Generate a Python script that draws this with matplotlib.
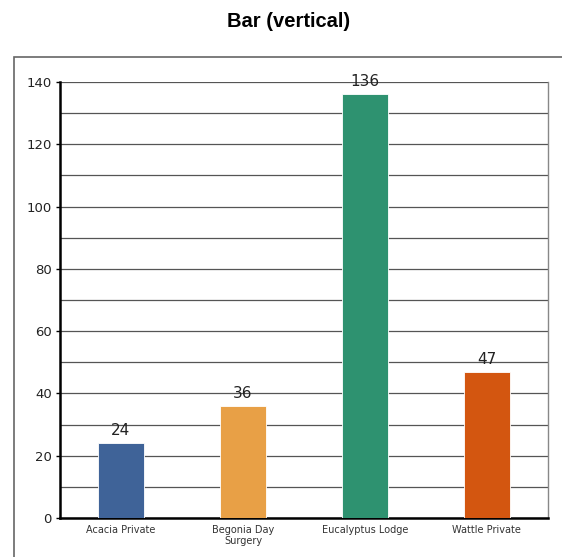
import matplotlib.pyplot as plt
from matplotlib.patches import Rectangle

categories = ['Acacia Private', 'Begonia Day\nSurgery', 'Eucalyptus Lodge', 'Wattle Private']
values = [24, 36, 136, 47]
colors = ['#3F6398', '#E8A046', '#2E9270', '#D35610']

fig = plt.figure(figsize=(5.62, 5.57), dpi=100)
fig.patch.set_facecolor('white')

# outer frame around the chart area
fig.patches.append(Rectangle((0.025, -0.1), 1.1, 0.9977, transform=fig.transFigure,
                             fill=False, edgecolor='#666666', linewidth=1.2))

ax = fig.add_axes([0.1068, 0.070, 0.868, 0.7828])
ax.set_ylim(0, 140)
ax.set_xlim(-0.5, len(categories) - 0.5)

ax.set_yticks(range(0, 141, 20))
ax.set_yticks(range(0, 141, 10), minor=True)
ax.grid(axis='y', which='both', color='#555555', linewidth=0.9)
ax.set_axisbelow(True)

bars = ax.bar(range(len(categories)), values, width=0.38, color=colors,
              edgecolor='white', linewidth=0.6, zorder=3)
for b, v in zip(bars, values):
    ax.text(b.get_x() + b.get_width() / 2, v + 1.6, str(v), ha='center', va='bottom',
            fontsize=11, color='#222222', zorder=4)

ax.set_xticks(range(len(categories)))
ax.set_xticklabels(categories, fontsize=7, color='#333333', linespacing=1.1)
ax.tick_params(axis='x', length=0, pad=5)
ax.tick_params(axis='y', which='major', length=3, width=1, labelsize=9.5, labelcolor='#222222', pad=3)
ax.tick_params(axis='y', which='minor', length=0)

ax.spines['left'].set_linewidth(1.8)
ax.spines['left'].set_color('black')
ax.spines['bottom'].set_linewidth(1.8)
ax.spines['bottom'].set_color('black')
ax.spines['right'].set_color('#888888')
ax.spines['right'].set_linewidth(1)
ax.spines['top'].set_visible(False)

fig.text(0.514, 0.962, 'Bar (vertical)', ha='center', va='center',
         fontsize=14.5, fontweight='bold', family='Liberation Sans')

fig.savefig('out.png', dpi=100)
